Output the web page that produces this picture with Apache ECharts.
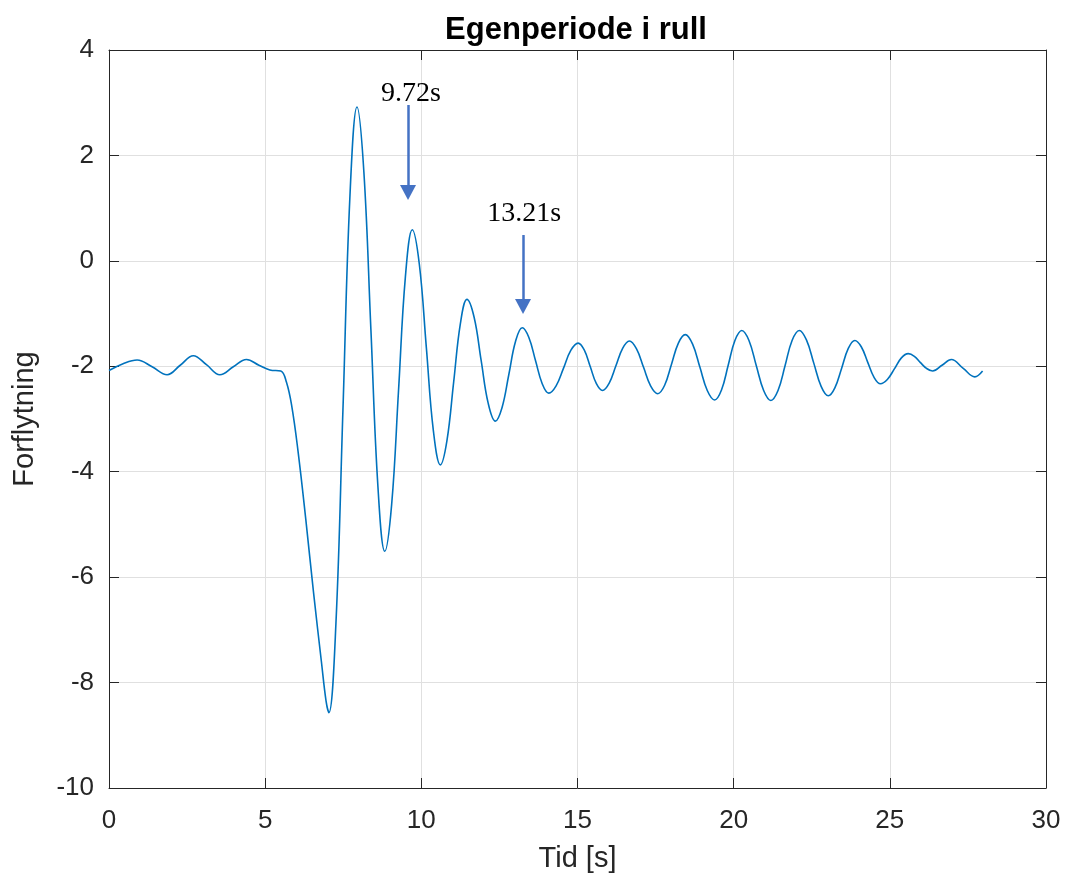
<!DOCTYPE html>
<html>
<head>
<meta charset="utf-8">
<script src="https://cdn.jsdelivr.net/npm/echarts@6/dist/echarts.min.js"></script>
<style>
  html, body { margin: 0; padding: 0; background: #fff; }
  #chart { width: 1067px; height: 879px; }
</style>
</head>
<body>
<div id="chart"></div>
<script>
// tid [s] og forflytning
const tid = [
  0, 0.45, 0.9, 1.38, 1.86, 2.28, 2.7, 3.12, 3.55, 3.98, 4.4, 4.8, 5.15, 5.5,
  5.68, 5.85, 6.05, 6.3, 6.55, 6.8, 6.95, 7.04,
  7.265, 7.49, 7.715, 7.94,
  8.16, 8.385, 8.61, 8.83,
  9.05, 9.27, 9.49, 9.71,
  9.935, 10.16, 10.385, 10.61,
  10.82, 11.035, 11.25, 11.46,
  11.69, 11.915, 12.14, 12.37,
  12.585, 12.8, 13.015, 13.23,
  13.44, 13.655, 13.87, 14.08,
  14.315, 14.55, 14.785, 15.02,
  15.215, 15.41, 15.605, 15.8,
  16.015, 16.23, 16.445, 16.66,
  16.89, 17.115, 17.34, 17.57,
  17.79, 18.01, 18.23, 18.45,
  18.685, 18.92, 19.155, 19.39,
  19.61, 19.825, 20.04, 20.26,
  20.49, 20.725, 20.96, 21.19,
  21.42, 21.645, 21.87, 22.1,
  22.33, 22.565, 22.8, 23.03,
  23.24, 23.455, 23.67, 23.88,
  24.085, 24.29, 24.495, 24.7,
  24.92, 25.145, 25.37, 25.59,
  25.785, 25.98, 26.175, 26.37,
  26.67, 26.97, 27.35, 27.72, 27.97
]
const forflytning = [
  -2.08, -1.95, -1.88, -2.01, -2.16, -1.98, -1.80, -1.97, -2.16, -2.01, -1.87, -1.98, -2.07, -2.09,
  -2.3, -2.75, -3.6, -4.9, -6.3, -7.6, -8.35, -8.57,
  -6.89, -2.83, 1.24, 2.92,
  1.69, -1.30, -4.28, -5.51,
  -4.62, -2.46, -0.30, 0.59,
  -0.06, -1.64, -3.22, -3.87,
  -3.41, -2.30, -1.19, -0.73,
  -1.07, -1.89, -2.70, -3.04,
  -2.78, -2.16, -1.53, -1.27,
  -1.45, -1.89, -2.33, -2.51,
  -2.37, -2.04, -1.70, -1.56,
  -1.69, -2.01, -2.33, -2.46,
  -2.32, -1.99, -1.66, -1.52,
  -1.67, -2.02, -2.37, -2.52,
  -2.36, -1.96, -1.56, -1.40,
  -1.58, -2.02, -2.46, -2.64,
  -2.45, -1.98, -1.51, -1.32,
  -1.51, -1.99, -2.46, -2.65,
  -2.46, -1.99, -1.51, -1.32,
  -1.50, -1.94, -2.38, -2.56,
  -2.41, -2.04, -1.66, -1.51,
  -1.63, -1.92, -2.21, -2.33,
  -2.25, -2.05, -1.84, -1.76,
  -1.81, -1.93, -2.04, -2.09,
  -1.98, -1.87, -2.04, -2.20, -2.09
]
const xTicks = { min: 0, max: 30, interval: 5 }
const yTicks = { min: -10, max: 4, interval: 2 }

// piler med tekst
const piler = [
  { tekst: '9.72s', x: 9.574, fra: 2.957, til: 1.297, tx: 9.67, ty: 3.175 },
  { tekst: '13.21s', x: 13.256, fra: 0.49, til: -0.866, tx: 13.29, ty: 0.898 }
]

const axisColor = '#262626'
const tickFont = { color: axisColor, fontSize: 26, fontFamily: 'Liberation Sans, Arial, sans-serif' }

const chart = echarts.init(document.getElementById('chart'))

const baseAxis = (extra) => Object.assign({
  type: 'value',
  axisLine: { show: true, onZero: false, lineStyle: { color: axisColor, width: 1 } },
  axisTick: { show: true, inside: true, length: 10, lineStyle: { color: axisColor } },
  splitLine: { show: false }
}, extra)

const option = {
  animation: false,
  backgroundColor: '#fff',
  title: {
    text: 'Egenperiode i rull',
    left: 571,
    textAlign: 'center',
    top: 10,
    textStyle: { color: '#000', fontSize: 31, fontWeight: 'bold', fontFamily: 'Liberation Sans, Arial, sans-serif' }
  },
  grid: { left: 109, right: 21, top: 50, bottom: 91 },
  xAxis: [
    baseAxis({
      min: xTicks.min, max: xTicks.max, interval: xTicks.interval,
      position: 'bottom',
      name: 'Tid [s]',
      nameLocation: 'middle',
      nameGap: 56,
      nameTextStyle: { color: axisColor, fontSize: 29, fontFamily: 'Liberation Sans, Arial, sans-serif' },
      axisLabel: Object.assign({ margin: 20 }, tickFont),
      splitLine: { show: true, lineStyle: { color: '#e0e0e0', width: 1 } }
    }),
    baseAxis({
      min: xTicks.min, max: xTicks.max, interval: xTicks.interval,
      position: 'top',
      axisLabel: { show: false }
    })
  ],
  yAxis: [
    baseAxis({
      min: yTicks.min, max: yTicks.max, interval: yTicks.interval,
      position: 'left',
      name: 'Forflytning',
      nameLocation: 'middle',
      nameGap: 70,
      nameTextStyle: { color: axisColor, fontSize: 29, fontFamily: 'Liberation Sans, Arial, sans-serif' },
      axisLabel: Object.assign({ margin: 15 }, tickFont),
      splitLine: { show: true, lineStyle: { color: '#e0e0e0', width: 1 } }
    }),
    baseAxis({
      min: yTicks.min, max: yTicks.max, interval: yTicks.interval,
      position: 'right',
      axisLabel: { show: false }
    })
  ],
  series: [
    {
      type: 'line',
      data: tid.map((t, i) => [t, forflytning[i]]),
      smooth: 0.4,
      showSymbol: false,
      lineStyle: { color: '#0072BD', width: 1.6 },
      markLine: {
        silent: true,
        symbol: ['none', 'triangle'],
        symbolSize: [16, 15],
        lineStyle: { color: '#4472C4', width: 2.5, type: 'solid' },
        label: { show: false },
        data: piler.map(p => [{ coord: [p.x, p.fra] }, { coord: [p.x, p.til] }])
      },
      markPoint: {
        silent: true,
        symbol: 'circle',
        symbolSize: 0,
        label: {
          show: true,
          color: '#000',
          fontSize: 28,
          fontFamily: 'Liberation Serif, Times New Roman, serif',
          formatter: (p) => p.name
        },
        data: piler.map(p => ({ name: p.tekst, coord: [p.tx, p.ty] }))
      }
    }
  ]
}

chart.setOption(option)
</script>
</body>
</html>
